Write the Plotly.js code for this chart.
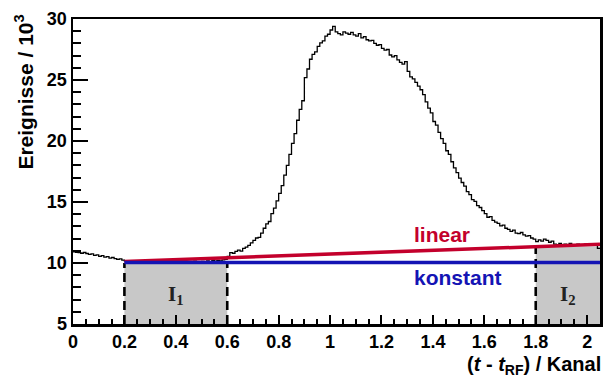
<!DOCTYPE html>
<html>
<head>
<meta charset="utf-8">
<script src="https://cdn.plot.ly/plotly-3.0.1.min.js"></script>
<style>html,body{margin:0;padding:0;background:#fff;}#chart{width:603px;height:378px;}</style>
</head>
<body>
<div id="chart"></div>
<script>
// Histogram: counts (in 10^3) per bin, bins of width 0.01 starting at 0
const binStart = 0;
const binWidth = 0.01;
const counts = [
  10.92,10.88,10.85,10.80,10.86,10.78,10.70,10.74,10.62,10.66,
  10.55,10.60,10.48,10.52,10.40,10.45,10.36,10.30,10.34,10.24,
  10.18,10.12,10.15,10.10,10.16,10.08,10.14,10.11,10.06,10.13,
  10.09,10.15,10.05,10.12,10.10,10.07,10.14,10.09,10.03,10.11,
  10.08,10.13,10.06,10.10,10.04,10.12,10.09,10.15,10.07,10.11,
  10.14,10.08,10.17,10.12,10.20,10.15,10.22,10.18,10.26,10.30,
  10.55,10.85,10.80,10.95,11.05,10.98,11.20,11.30,11.45,11.65,
  11.85,12.05,12.10,12.45,12.85,13.20,13.40,14.05,14.50,15.10,
  15.70,16.35,17.20,18.00,18.90,19.80,20.60,21.70,22.60,23.30,
  25.20,25.90,26.70,27.10,27.30,27.75,28.05,28.20,28.60,28.75,
  29.10,29.40,28.95,28.80,28.70,28.95,28.85,28.75,28.90,28.70,
  28.60,28.80,28.45,28.55,28.30,28.20,28.25,28.00,27.85,27.90,
  27.60,27.45,27.50,27.05,26.90,27.00,26.65,26.45,26.30,26.50,
  25.70,25.25,25.10,24.80,24.50,24.20,23.80,23.20,22.70,22.30,
  21.60,21.30,20.70,20.20,19.80,19.20,18.90,18.30,17.80,17.40,
  16.95,16.60,16.30,15.85,15.60,15.20,15.05,14.70,14.55,14.30,
  14.05,13.75,13.80,13.50,13.35,13.25,13.05,13.10,12.85,12.75,
  12.60,12.70,12.45,12.40,12.50,12.30,12.20,12.25,12.05,11.95,
  11.75,11.90,11.80,11.95,11.85,11.70,11.80,11.55,11.50,11.60,
  11.45,11.55,11.50,11.60,11.45,11.50,11.55,11.45,11.50,11.55,
  11.50,11.45,11.55,11.50,11.20
];

// Integration intervals I1, I2 (gray regions)
const intervalNames = ["I<sub>1</sub>", "I<sub>2</sub>"];
const intervalStart = [0.2, 1.8];
const intervalEnd = [0.6, 2.05];
const intervalTop = [10.0, 11.35];

// Background fits
const fitX = [0.2, 2.05];
const fitKonstant = [10.05, 10.05];
const fitLinear = [10.12, 11.53];

const xTickVals = [0, 0.2, 0.4, 0.6, 0.8, 1, 1.2, 1.4, 1.6, 1.8, 2];
const yTickVals = [5, 10, 15, 20, 25, 30];

// Build step histogram edges
const histX = [], histY = [];
for (let i = 0; i < counts.length; i++) {
  histX.push(+(binStart + i * binWidth).toFixed(4));
  histY.push(counts[i]);
}
histX.push(+(binStart + counts.length * binWidth).toFixed(4));
histY.push(counts[counts.length - 1]);

const yMin = 5;
const traces = [];

// gray regions
for (let k = 0; k < intervalStart.length; k++) {
  traces.push({
    x: [intervalStart[k], intervalEnd[k], intervalEnd[k], intervalStart[k], intervalStart[k]],
    y: [yMin, yMin, intervalTop[k], intervalTop[k], yMin],
    mode: 'lines', fill: 'toself', fillcolor: '#c8c8c8',
    line: {width: 0, color: 'rgba(0,0,0,0)'}, hoverinfo: 'skip', showlegend: false
  });
}
// dashed boundaries
const dashX = [intervalStart[0], intervalEnd[0], intervalStart[1]];
const dashTop = [intervalTop[0], intervalTop[0], intervalTop[1]];
for (let k = 0; k < dashX.length; k++) {
  traces.push({
    x: [dashX[k], dashX[k]], y: [yMin, dashTop[k]],
    mode: 'lines', line: {color: '#000', width: 2.6, dash: '9px,5px'},
    hoverinfo: 'skip', showlegend: false
  });
}
// histogram
traces.push({
  x: histX, y: histY, mode: 'lines', line: {shape: 'hv', color: '#000', width: 1.3},
  hoverinfo: 'skip', showlegend: false
});
// fits
traces.push({x: fitX, y: fitLinear, mode: 'lines', line: {color: '#c3002c', width: 3.5}, showlegend: false, hoverinfo: 'skip'});
traces.push({x: fitX, y: fitKonstant, mode: 'lines', line: {color: '#1414b4', width: 3.5}, showlegend: false, hoverinfo: 'skip'});

const boldFont = {family: 'Liberation Sans, Arial, Helvetica, sans-serif', size: 18, color: '#000', weight: 'bold'};

const annotations = [
  {x: 1.32, y: 12.3, xref: 'x', yref: 'y', text: '<b>linear</b>', showarrow: false, xanchor: 'left', yanchor: 'middle',
   font: {family: 'Liberation Sans, Arial, sans-serif', size: 21, color: '#c3002c'}},
  {x: 1.32, y: 8.85, xref: 'x', yref: 'y', text: '<b>konstant</b>', showarrow: false, xanchor: 'left', yanchor: 'middle',
   font: {family: 'Liberation Sans, Arial, sans-serif', size: 21, color: '#1414b4'}},
  {x: -0.093, y: 0.762, xref: 'paper', yref: 'paper', text: '<b>Ereignisse / 10<sup>3</sup></b>', showarrow: false,
   textangle: -90, xanchor: 'center', yanchor: 'middle', font: {family: 'Liberation Sans, Arial, sans-serif', size: 21, color: '#000'}},
  {x: 1.005, y: 0, xref: 'paper', yref: 'paper', yshift: -41, text: '<b>(<i>t</i> - <i>t</i><sub>RF</sub>) / Kanal</b>', showarrow: false,
   xanchor: 'right', yanchor: 'middle', font: {family: 'Liberation Sans, Arial, sans-serif', size: 20, color: '#000'}}
];
for (let k = 0; k < intervalNames.length; k++) {
  annotations.push({
    x: (intervalStart[k] + intervalEnd[k]) / 2, y: 7.4, xref: 'x', yref: 'y',
    text: '<b>' + intervalNames[k] + '</b>', showarrow: false, xanchor: 'center', yanchor: 'middle',
    font: {family: 'Liberation Serif, Times New Roman, serif', size: 21, color: '#222'}
  });
}

const layout = {
  width: 603, height: 378,
  margin: {l: 73, r: 3, t: 19, b: 54},
  paper_bgcolor: '#fff', plot_bgcolor: '#fff',
  showlegend: false,
  xaxis: {
    range: [0, 2.05], tickvals: xTickVals, ticktext: xTickVals.map(v => String(v)),
    ticks: 'inside', ticklen: 9, tickwidth: 2, tickcolor: '#000',
    minor: {ticks: 'inside', ticklen: 5, tickwidth: 2, dtick: 0.05, tickcolor: '#000'},
    showline: true, linewidth: 2.5, linecolor: '#000', mirror: true,
    showgrid: false, zeroline: false, tickfont: boldFont, fixedrange: true
  },
  yaxis: {
    range: [5, 30], tickvals: yTickVals,
    ticks: 'inside', ticklen: 15, tickwidth: 2, tickcolor: '#000',
    minor: {ticks: 'inside', ticklen: 8, tickwidth: 2, dtick: 1, tickcolor: '#000'},
    showline: true, linewidth: 2.5, linecolor: '#000', mirror: true,
    showgrid: false, zeroline: false, tickfont: boldFont, fixedrange: true
  },
  annotations: annotations
};

Plotly.newPlot('chart', traces, layout, {staticPlot: true, displayModeBar: false});
</script>
</body>
</html>
